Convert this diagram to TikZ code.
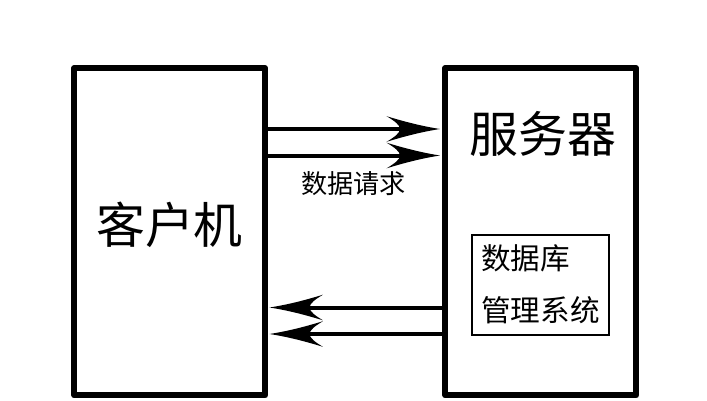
\documentclass[tikz,border=0pt]{standalone}
\usepackage{fontspec}
\usetikzlibrary{arrows.meta}
\setmainfont{Noto Sans CJK SC}
\pgfdeclarearrow{
  name=WingTip,
  setup code={
    \pgfarrowssettipend{0pt}
    \pgfarrowssetbackend{-40pt}
    \pgfarrowssetlineend{-25pt}
    \pgfarrowssetvisualbackend{-30pt}
  },
  drawing code={
    \pgfpathmoveto{\pgfqpoint{0pt}{0pt}}
    \pgfpathcurveto{\pgfqpoint{-14pt}{2.2pt}}{\pgfqpoint{-27pt}{5.6pt}}{\pgfqpoint{-40pt}{9.6pt}}
    \pgfpathcurveto{\pgfqpoint{-34pt}{6pt}}{\pgfqpoint{-30pt}{3pt}}{\pgfqpoint{-30pt}{0pt}}
    \pgfpathcurveto{\pgfqpoint{-30pt}{-3pt}}{\pgfqpoint{-34pt}{-6pt}}{\pgfqpoint{-40pt}{-9.6pt}}
    \pgfpathcurveto{\pgfqpoint{-27pt}{-5.6pt}}{\pgfqpoint{-14pt}{-2.2pt}}{\pgfqpoint{0pt}{0pt}}
    \pgfpathclose
    \pgfusepathqfill
  }
}
\tikzset{
  x=0.75pt,y=-0.75pt,
  bigbox/.style={draw=black,line width=4.5pt,line join=round,outer sep=0pt,minimum height=245.6pt,minimum width=143pt,inner sep=0pt},
  innerbox/.style={draw=black,line width=1.2pt,outer sep=0pt,minimum width=102.75pt,minimum height=75pt,inner sep=0pt},
  flow/.style={line width=3pt,-{WingTip}},
  bigtext/.style={font=\fontsize{36.7pt}{40pt}\selectfont,inner sep=0pt},
  midtext/.style={font=\fontsize{22.2pt}{26pt}\selectfont,inner sep=0pt,anchor=west},
  smalltext/.style={font=\fontsize{19.6pt}{23pt}\selectfont,inner sep=0pt},
}
\begin{document}
\begin{tikzpicture}
\useasboundingbox[fill=white] (0,0) rectangle (707,400);
\node[bigbox] (client) at (169.75,231.75) {};
\node[bigbox] (server) at (540.75,231.75) {};
\node[innerbox] (db) at (540.5,285) {};
\node[bigtext] (clientlabel) at (169.5,225) {客户机};
\node[bigtext] (serverlabel) at (543,134) {服务器};
\node[smalltext] (reqlabel) at (353.5,184) {数据请求};
\node[midtext] (dbone) at (481,258) {数据库};
\node[midtext] (dbtwo) at (481,310) {管理系统};
\coordinate (c1) at (client.east |- 0,129);
\coordinate (c2) at (client.east |- 0,155.5);
\coordinate (c3) at (client.east |- 0,307.5);
\coordinate (c4) at (client.east |- 0,334);
\coordinate (s1) at (server.west |- 0,129);
\coordinate (s2) at (server.west |- 0,155.5);
\coordinate (s3) at (server.west |- 0,307.5);
\coordinate (s4) at (server.west |- 0,334);
\draw[flow,shorten >=4.1pt] (c1) -- (s1);
\draw[flow,shorten >=4.1pt] (c2) -- (s2);
\draw[flow,shorten >=3.4pt] (s3) -- (c3);
\draw[flow,shorten >=3.4pt] (s4) -- (c4);
\end{tikzpicture}
\end{document}
